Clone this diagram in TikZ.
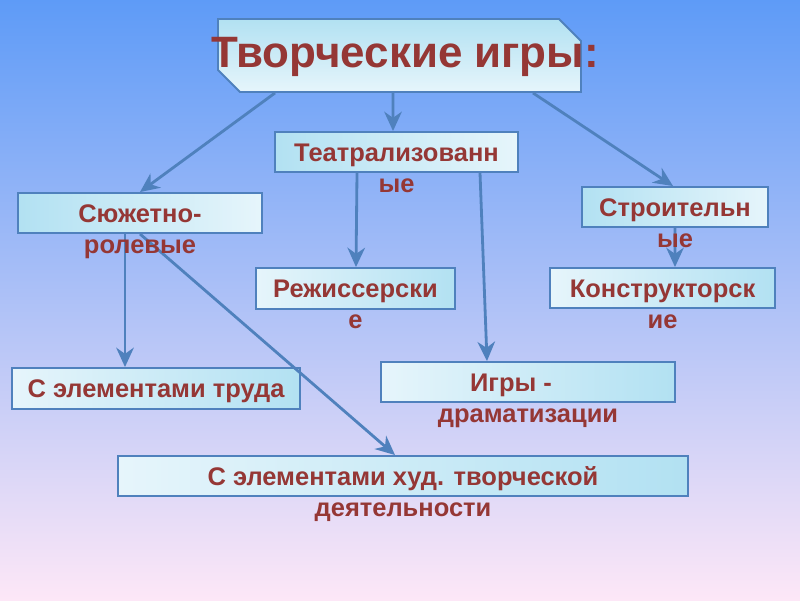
\documentclass[tikz,border=0pt]{standalone}
\usepackage{fontspec}
\setmainfont{Liberation Sans}
\usetikzlibrary{arrows.meta,shapes.misc}

\definecolor{bgtop}{HTML}{5E9BF7}
\definecolor{bgmid}{HTML}{A0C4F4}
\definecolor{bgbot}{HTML}{FDE7F7}
\definecolor{lineblue}{HTML}{4F81BD}
\definecolor{cyandark}{HTML}{B2E1F2}
\definecolor{cyanlight}{HTML}{E6F5FB}
\definecolor{txtred}{HTML}{953735}

\newcommand{\boxfont}{\fontsize{14.5}{17.6}\selectfont\bfseries}

\begin{document}
\begin{tikzpicture}[>=Stealth,
  card/.style={rectangle, draw=lineblue, line width=1.1pt, inner sep=0pt, text=txtred, font=\boxfont, text height=10.4pt, text depth=0pt, minimum height=0.8cm},
  cardL/.style={card, left color=cyandark, right color=cyanlight},
  cardR/.style={card, left color=cyanlight, right color=cyandark},
  tail/.style={anchor=base, inner sep=0pt, text=txtred, font=\boxfont},
  edge/.style={-{Stealth[length=11pt,width=10pt,inset=3.5pt]}, line width=1.6pt, draw=lineblue}
]
\fill[top color=bgtop, middle color=bgmid, bottom color=bgbot] (0,0) rectangle (16,12);
\useasboundingbox (0,0) rectangle (16,12);

\node[chamfered rectangle, chamfered rectangle corners={north east,south west},
  chamfered rectangle xsep=0.24cm, chamfered rectangle ysep=0.2cm,
  draw=lineblue, line width=1.1pt, top color=cyandark, bottom color=cyanlight,
  minimum width=7.26cm, minimum height=1.46cm, inner sep=0pt, text=txtred,
  font=\fontsize{25}{30}\selectfont\bfseries, text height=18pt, text depth=4.5pt]
  (title) at (7.99,10.89) {\makebox[5cm]{\hspace*{0.22cm}Творческие игры:}};

\node[cardL, minimum width=4.88cm] (sr) at (2.80,7.74) {Сюжетно-};
\node[cardL, minimum width=4.86cm] (teatr) at (7.93,8.96) {Театрализованн};
\node[cardL, minimum width=3.72cm] (stroit) at (13.50,7.86) {Строительн};
\node[cardR, minimum width=3.98cm, minimum height=0.82cm] (rezh) at (7.11,6.23) {Режиссерски};
\node[cardR, minimum width=4.50cm] (konstr) at (13.25,6.24) {Конструкторск};
\node[cardR, minimum width=5.76cm, minimum height=0.82cm] (trud) at (3.12,4.23) {С элементами труда};
\node[cardR, minimum width=5.88cm] (igry) at (10.56,4.36) {Игры -\hspace*{0.68cm}};
\node[cardR, minimum width=11.40cm] (hud) at (8.06,2.48) {С элементами худ. творческой};

\draw[edge] ([xshift=-2.49cm]title.south) -- (sr.north);
\draw[edge] ([xshift=-0.13cm]title.south) -- ([xshift=-0.07cm]teatr.north);
\draw[edge] ([xshift=2.67cm]title.south) -- ([xshift=-0.04cm]stroit.north);
\draw[edge] ([xshift=-0.79cm]teatr.south) -- ([xshift=0.01cm]rezh.north);
\draw[edge] ([xshift=1.67cm]teatr.south) -- ([xshift=-0.82cm]igry.north);
\draw[edge] ([xshift=-0.30cm]sr.south) -- ([xshift=-0.62cm]trud.north);
\draw[edge] (sr.south) -- ([xshift=-0.16cm]hud.north);
\draw[edge] (stroit.south) -- ([xshift=0.25cm]konstr.north);

\node[tail] (sr2) at ([yshift=-17.6pt]sr.base) {ролевые};
\node[tail] (teatr2) at ([yshift=-17.6pt]teatr.base) {ые};
\node[tail] (stroit2) at ([yshift=-17.6pt]stroit.base) {ые};
\node[tail] (rezh2) at ([yshift=-17.6pt]rezh.base) {е};
\node[tail] (konstr2) at ([yshift=-17.6pt]konstr.base) {ие};
\node[tail] (igry2) at ([yshift=-17.6pt]igry.base) {драматизации};
\node[tail] (hud2) at ([yshift=-17.6pt]hud.base) {деятельности};
\end{tikzpicture}
\end{document}
